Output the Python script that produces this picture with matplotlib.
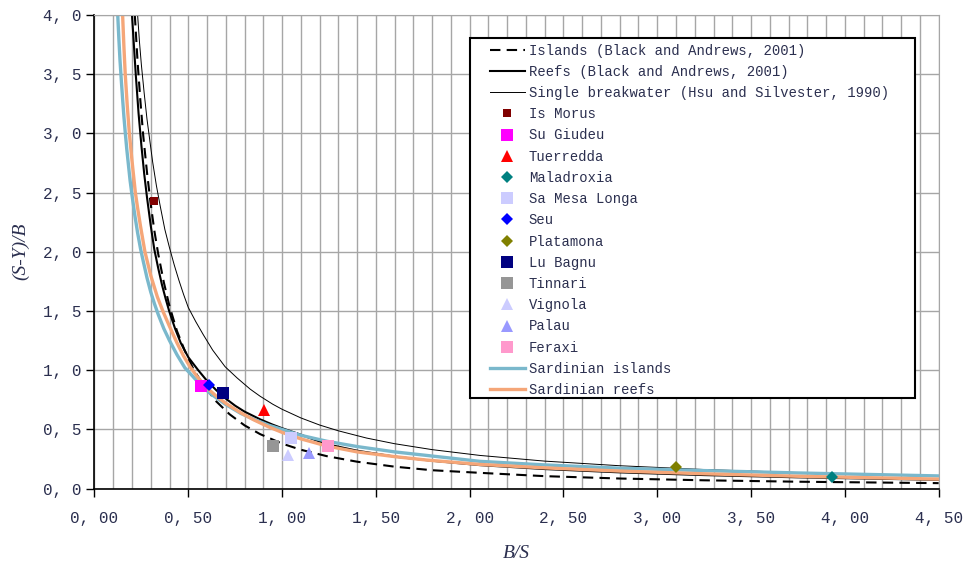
import matplotlib
matplotlib.use("Agg")
import matplotlib.pyplot as plt
from matplotlib.patches import Rectangle
from matplotlib.ticker import FixedLocator, MultipleLocator

# curves (x = B/S, y = (S-Y)/B)
islands_x = [0.215, 0.23, 0.245, 0.26, 0.28, 0.30, 0.32, 0.34, 0.37, 0.40, 0.44, 0.48,
             0.527, 0.58, 0.65, 0.72, 0.80, 0.883, 1.0, 1.1, 1.238, 1.4, 1.6, 1.8,
             2.055, 2.4, 2.8, 3.25, 3.75, 4.5]
islands_y = [4.0, 3.6, 3.27, 2.98, 2.67, 2.40, 2.17, 1.98, 1.74, 1.54, 1.33, 1.17,
             1.01, 0.875, 0.735, 0.628, 0.534, 0.46, 0.38, 0.328, 0.274, 0.227, 0.185, 0.155,
             0.133, 0.105, 0.085, 0.07, 0.058, 0.046]

reefs_x = [0.20, 0.21, 0.22, 0.235, 0.25, 0.265, 0.28, 0.30, 0.319, 0.34, 0.36, 0.38,
           0.40, 0.43, 0.46, 0.50, 0.553, 0.60, 0.65, 0.70, 0.75, 0.80, 0.883, 0.95,
           1.0, 1.1, 1.238, 1.4, 1.6, 1.8, 2.055, 2.4, 2.8, 3.25, 3.75, 4.5]
reefs_y = [4.0, 3.75, 3.5, 3.17, 2.9, 2.66, 2.46, 2.22, 2.02, 1.86, 1.72, 1.6,
           1.49, 1.35, 1.23, 1.11, 1.0, 0.91, 0.83, 0.76, 0.70, 0.65, 0.585, 0.54,
           0.51, 0.455, 0.375, 0.32, 0.27, 0.235, 0.198, 0.165, 0.137, 0.114, 0.095, 0.074]

hsu_x = [0.23, 0.24, 0.25, 0.265, 0.28, 0.295, 0.31, 0.33, 0.35, 0.375, 0.399, 0.425,
         0.45, 0.475, 0.50, 0.54, 0.58, 0.63, 0.696, 0.76, 0.83, 0.883, 0.95, 1.0,
         1.1, 1.2, 1.3, 1.45, 1.6, 1.8, 2.055, 2.4, 2.8, 3.25, 3.75, 4.0, 4.5]
hsu_y = [4.0, 3.77, 3.58, 3.34, 3.12, 2.94, 2.76, 2.56, 2.39, 2.19, 2.04, 1.89,
         1.76, 1.64, 1.53, 1.41, 1.30, 1.17, 1.03, 0.935, 0.84, 0.78, 0.713, 0.67,
         0.597, 0.537, 0.488, 0.427, 0.379, 0.329, 0.28, 0.232, 0.193, 0.161, 0.135, 0.125, 0.109]

sard_isl_x = [0.124, 0.13, 0.136, 0.143, 0.15, 0.157, 0.164, 0.172, 0.18, 0.19, 0.20,
              0.215, 0.23, 0.245, 0.26, 0.28, 0.30, 0.32, 0.34, 0.37, 0.40, 0.44, 0.482,
              0.52, 0.566, 0.62, 0.70, 0.78, 0.85, 0.93, 1.0, 1.1, 1.238, 1.4, 1.6,
              1.771, 2.055, 2.4, 2.8, 3.25, 3.75, 4.5]
sard_isl_y = [4.0, 3.8, 3.62, 3.45, 3.29, 3.14, 3.01, 2.87, 2.75, 2.6, 2.48,
              2.31, 2.16, 2.03, 1.92, 1.78, 1.66, 1.56, 1.47, 1.35, 1.25, 1.13, 1.02,
              0.955, 0.875, 0.80, 0.71, 0.635, 0.585, 0.535, 0.50, 0.45, 0.40, 0.355, 0.31,
              0.28, 0.23, 0.20, 0.172, 0.152, 0.132, 0.107]

sard_reef_x = [0.15, 0.157, 0.164, 0.175, 0.186, 0.20, 0.218, 0.23, 0.245, 0.269, 0.30,
               0.335, 0.367, 0.40, 0.44, 0.475, 0.509, 0.55, 0.60, 0.65, 0.70, 0.78,
               0.85, 0.93, 1.0, 1.1, 1.238, 1.4, 1.6, 1.771, 2.055, 2.4, 2.8, 3.25,
               3.75, 4.5]
sard_reef_y = [4.0, 3.73, 3.5, 3.23, 3.0, 2.77, 2.5, 2.37, 2.22, 2.0, 1.8,
               1.62, 1.49, 1.37, 1.23, 1.12, 1.03, 0.94, 0.85, 0.78, 0.72, 0.64,
               0.58, 0.52, 0.475, 0.42, 0.36, 0.31, 0.27, 0.241, 0.204, 0.175, 0.148, 0.125,
               0.104, 0.08]

# measured sites
site_names = ["Is Morus", "Su Giudeu", "Tuerredda", "Maladroxia", "Sa Mesa Longa", "Seu",
              "Platamona", "Lu Bagnu", "Tinnari", "Vignola", "Palau", "Feraxi"]
site_x = [0.317, 0.566, 0.904, 3.933, 1.047, 0.612, 3.10, 0.687, 0.95, 1.033, 1.145, 1.246]
site_y = [2.427, 0.867, 0.66, 0.095, 0.43, 0.872, 0.185, 0.81, 0.362, 0.28, 0.30, 0.362]
site_marker = ["s", "s", "^", "D", "s", "D", "D", "s", "s", "^", "^", "s"]
site_color = ["#800000", "#ff00ff", "#ff0000", "#008080", "#ccccff", "#0000ff",
              "#808000", "#000080", "#969696", "#ccccff", "#9999ff", "#ff99cc"]
site_size = [6, 8, 8, 6, 8, 6, 6, 8, 8, 8, 8, 8]

xticks = [0.0, 0.5, 1.0, 1.5, 2.0, 2.5, 3.0, 3.5, 4.0, 4.5]
yticks = [0.0, 0.5, 1.0, 1.5, 2.0, 2.5, 3.0, 3.5, 4.0]

mono = "Liberation Mono"
label_color = "#2b2f4f"

fig = plt.figure(figsize=(9.64, 5.67), dpi=100)
ax = fig.add_axes([0.098, 0.1383, 0.8757, 0.8352])

l_isl, = ax.plot(islands_x, islands_y, color="black", lw=1.5, ls=(0, (5, 3)),
                 label="Islands (Black and Andrews, 2001)")
l_reef, = ax.plot(reefs_x, reefs_y, color="black", lw=1.5,
                  label="Reefs (Black and Andrews, 2001)")
l_hsu, = ax.plot(hsu_x, hsu_y, color="black", lw=0.7,
                 label="Single breakwater (Hsu and Silvester, 1990)")
l_si, = ax.plot(sard_isl_x, sard_isl_y, color="#7ab8cc", lw=2.4, label="Sardinian islands")
l_sr, = ax.plot(sard_reef_x, sard_reef_y, color="#f5a678", lw=2.4, label="Sardinian reefs")

site_handles = []
for name, x, y, m, c, s in zip(site_names, site_x, site_y, site_marker, site_color, site_size):
    h, = ax.plot([x], [y], ls="none", marker=m, color=c, markersize=s,
                 markeredgewidth=0, label=name, zorder=5)
    site_handles.append(h)

ax.set_xlim(0, 4.5)
ax.set_ylim(0, 4.0)
ax.xaxis.set_major_locator(FixedLocator(xticks))
ax.yaxis.set_major_locator(FixedLocator(yticks))
ax.xaxis.set_minor_locator(MultipleLocator(0.1))
ax.set_xticklabels([f"{v:.2f}".replace(".", ", ") for v in xticks])
ax.set_yticklabels([f"{v:.1f}".replace(".", ", ") for v in yticks])
ax.tick_params(axis="both", which="major", direction="out", length=6, width=1,
               labelsize=11.5, labelcolor=label_color)
ax.tick_params(axis="x", which="major", pad=10)
ax.tick_params(axis="y", which="major", pad=3)
ax.tick_params(axis="x", which="minor", length=0)
for lab in ax.get_xticklabels() + ax.get_yticklabels():
    lab.set_family(mono)

ax.grid(True, which="both", axis="x", color="#a6a6a6", lw=1)
ax.grid(True, which="major", axis="y", color="#a6a6a6", lw=1)
ax.set_axisbelow(True)
for side in ("top", "right"):
    ax.spines[side].set_color("#a6a6a6")
for side in ("left", "bottom"):
    ax.spines[side].set_color("black")
    ax.spines[side].set_linewidth(1.2)

ax.set_xlabel("B/S", family="Liberation Serif", style="italic", fontsize=14,
              color=label_color, labelpad=14)
ax.set_ylabel("(S-Y)/B", family="Liberation Serif", style="italic", fontsize=14,
              color=label_color, labelpad=10)

# legend box drawn separately so it can be wider than its entries
ax.add_patch(Rectangle((0.4448, 0.1913), 0.5271, 0.7601, transform=ax.transAxes,
                       facecolor="white", edgecolor="black", lw=1.5, zorder=6))
handles = [l_isl, l_reef, l_hsu] + site_handles + [l_si, l_sr]
leg = ax.legend(handles=handles, loc="upper left", bbox_to_anchor=(0.4685, 0.9398),
                borderaxespad=0, borderpad=0, prop={"family": mono, "size": 10},
                frameon=False, handlelength=2.5, handletextpad=0.3, labelspacing=0.52,
                numpoints=1)
leg.set_zorder(7)
for t in leg.get_texts():
    t.set_color(label_color)

fig.savefig("out.png", dpi=100)
